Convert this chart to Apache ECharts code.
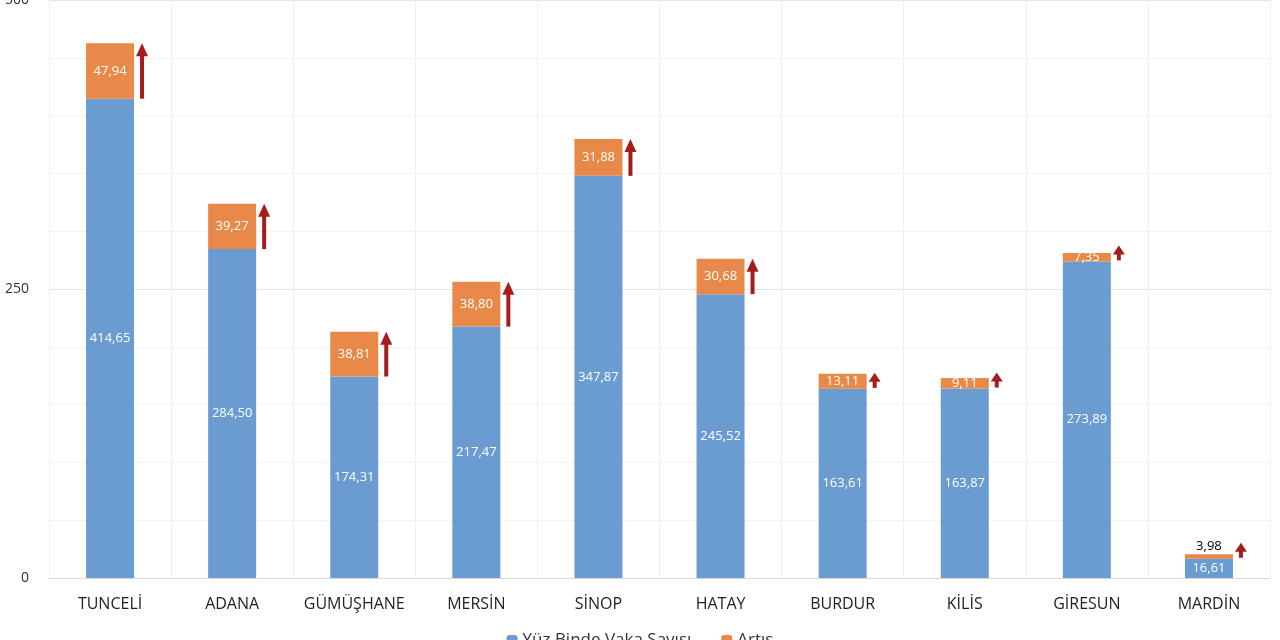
<!DOCTYPE html><html><head><meta charset="utf-8"><script src="https://cdn.jsdelivr.net/npm/echarts@6/dist/echarts.min.js"></script></head><body style="margin:0"><div id="c" style="width:1280px;height:640px"></div><script>
const categories=['TUNCELİ','ADANA','GÜMÜŞHANE','MERSİN','SİNOP','HATAY','BURDUR','KİLİS','GİRESUN','MARDİN'];
const cases=[414.65,284.50,174.31,217.47,347.87,245.52,163.61,163.87,273.89,16.61];
const increase=[47.94,39.27,38.81,38.80,31.88,30.68,13.11,9.11,7.35,3.98];
const fmt=v=>v.toFixed(2).replace('.',',');
const chart=echarts.init(document.getElementById('c'));
chart.setOption({
 animation:false,
 textStyle:{fontFamily:'Open Sans'},
 grid:{left:49,right:10,top:0,bottom:62,outerBoundsMode:'none',containLabel:false},
 legend:{bottom:-14,left:'center',itemWidth:11,itemHeight:11,itemGap:30,textStyle:{fontSize:17,color:'#333'},data:['Yüz Binde Vaka Sayısı','Artış']},
 xAxis:{type:'category',data:categories,axisTick:{show:false},axisLine:{lineStyle:{color:'#d9d9d9'}},
  axisLabel:{interval:0,fontSize:16,color:'#222',margin:18},splitLine:{show:true,interval:0,lineStyle:{color:'#efefef'}}},
 yAxis:{type:'value',min:0,max:500,interval:250,axisLabel:{fontSize:14,color:'#333',margin:20},
  splitLine:{lineStyle:{color:'#e6e6e6'}},minorTick:{show:false,splitNumber:5},minorSplitLine:{show:true,lineStyle:{color:'#f3f3f3'}}},
 series:[
  {name:'Yüz Binde Vaka Sayısı',type:'bar',stack:'a',barWidth:48,data:cases,itemStyle:{color:'#6a9bd1'},
   label:{show:true,position:'inside',color:'#fff',fontSize:13,formatter:p=>fmt(p.value)}},
  {name:'Artış',type:'bar',stack:'a',data:increase.map((v,i)=>i===9?{value:v,label:{position:'top',color:'#000',distance:1}}:v),itemStyle:{color:'#e8894a'},
   label:{show:true,position:'inside',color:'#fff',fontSize:13,formatter:p=>fmt(p.value)}},
  {type:'custom',name:'arrow',renderItem:(params,api)=>{
    const i=api.value(0);const b=api.coord([i,api.value(1)]);const t=api.coord([i,api.value(2)]);
    const x=b[0]+32;const bot=b[1]+(i>=6?-1:0);const top=Math.min(t[1],bot-15);const h=Math.min(13,(bot-top)*0.6);
    return {type:'group',children:[
     {type:'rect',shape:{x:x-2,y:top+h-1,width:4,height:Math.max(0,bot-top-h+1)},style:{fill:'#a51c1c'}},
     {type:'polygon',shape:{points:[[x-6,top+h],[x+6,top+h],[x,top]]},style:{fill:'#a51c1c'}}]};
   },data:categories.map((c,i)=>[i,cases[i],cases[i]+increase[i]]),z:5},
 ]
});
</script></body></html>
